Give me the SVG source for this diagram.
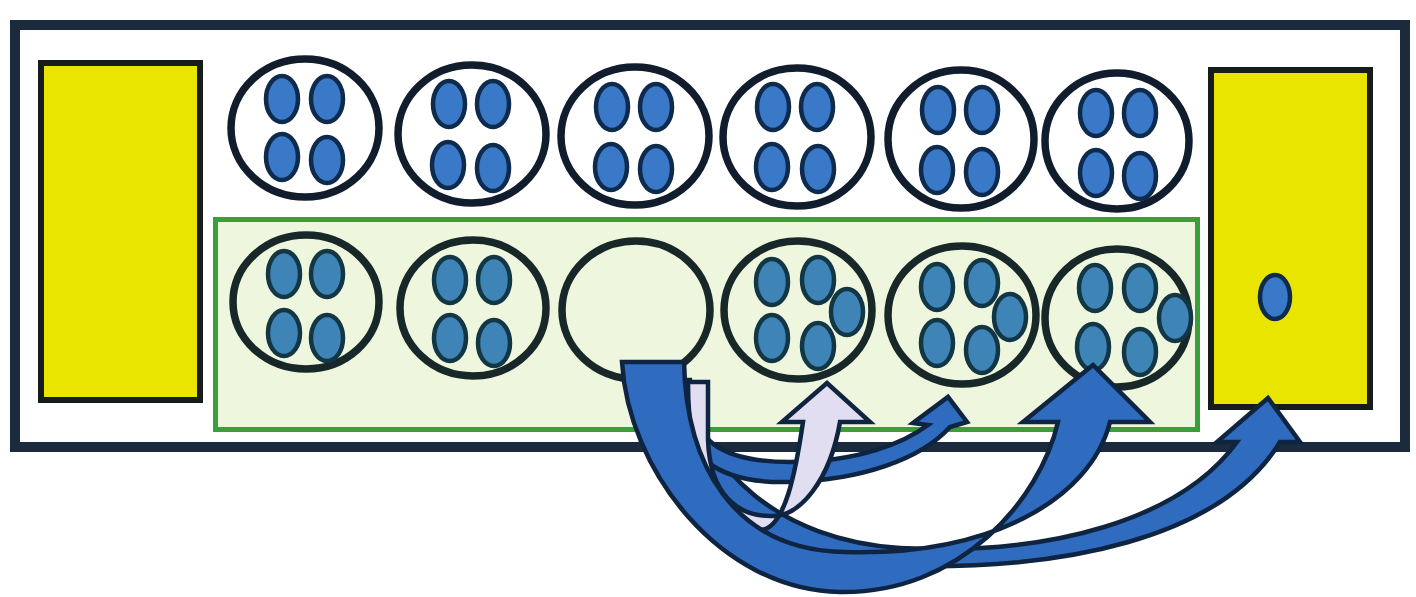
<svg xmlns="http://www.w3.org/2000/svg" width="1416" height="597" viewBox="0 0 1416 597">
<style>
.board{fill:#ffffff;stroke:#1b2a3d;stroke-width:10}
.store{fill:#e9e500;stroke:#161c1c;stroke-width:6}
.row{fill:#eef6de;stroke:#3a9e3a;stroke-width:5}
.pt{fill:#ffffff;stroke:#111d2d;stroke-width:7.5}
.pb{fill:none;stroke:#182828;stroke-width:7.5}
.st{fill:#3a78c8;stroke:#0e2a4c;stroke-width:4.5}
.sb{fill:#3f84b6;stroke:#123644;stroke-width:4.5}
.ab{fill:#2f6cc0;stroke:#0f2440;stroke-width:4.5;stroke-linejoin:miter}
.al{fill:#e2def2;stroke:#0f2440;stroke-width:4.5;stroke-linejoin:miter}
</style>
<rect width="1416" height="597" fill="#ffffff"/>
<g id="board">
<rect class="board" x="15" y="25" width="1390" height="422"/>
<rect class="row" x="215.5" y="219.5" width="982" height="210"/>
</g>
<g id="store-left"><rect class="store" x="41" y="63" width="159" height="337"/></g>
<g id="store-right"><rect class="store" x="1211" y="70" width="159" height="337"/><ellipse class="st" cx="1275" cy="297" rx="15" ry="22"/></g>
<g id="pit-t1"><ellipse class="pt" cx="305" cy="128" rx="74" ry="69"/>
<ellipse class="st" cx="282" cy="99" rx="16" ry="23"/><ellipse class="st" cx="327" cy="99" rx="16" ry="23"/><ellipse class="st" cx="282" cy="157" rx="16" ry="23"/><ellipse class="st" cx="327" cy="160" rx="16" ry="23"/></g>
<g id="pit-t2"><ellipse class="pt" cx="472" cy="134" rx="74" ry="69"/>
<ellipse class="st" cx="449" cy="104" rx="16" ry="23"/><ellipse class="st" cx="493" cy="104" rx="16" ry="23"/><ellipse class="st" cx="448" cy="165" rx="16" ry="23"/><ellipse class="st" cx="493" cy="168" rx="16" ry="23"/></g>
<g id="pit-t3"><ellipse class="pt" cx="635" cy="136" rx="74" ry="69"/>
<ellipse class="st" cx="612" cy="107" rx="16" ry="23"/><ellipse class="st" cx="656" cy="107" rx="16" ry="23"/><ellipse class="st" cx="611" cy="167" rx="16" ry="23"/><ellipse class="st" cx="656" cy="169" rx="16" ry="23"/></g>
<g id="pit-t4"><ellipse class="pt" cx="797" cy="137" rx="74" ry="69"/>
<ellipse class="st" cx="773" cy="107" rx="16" ry="23"/><ellipse class="st" cx="817" cy="107" rx="16" ry="23"/><ellipse class="st" cx="772" cy="167" rx="16" ry="23"/><ellipse class="st" cx="818" cy="169" rx="16" ry="23"/></g>
<g id="pit-t5"><ellipse class="pt" cx="961" cy="139" rx="73" ry="69"/>
<ellipse class="st" cx="938" cy="110" rx="16" ry="23"/><ellipse class="st" cx="982" cy="110" rx="16" ry="23"/><ellipse class="st" cx="937" cy="170" rx="16" ry="23"/><ellipse class="st" cx="982" cy="172" rx="16" ry="23"/></g>
<g id="pit-t6"><ellipse class="pt" cx="1117" cy="141" rx="72" ry="68"/>
<ellipse class="st" cx="1096" cy="113" rx="16" ry="23"/><ellipse class="st" cx="1140" cy="113" rx="16" ry="23"/><ellipse class="st" cx="1096" cy="173" rx="16" ry="23"/><ellipse class="st" cx="1140" cy="176" rx="16" ry="23"/></g>
<g id="pit-b1"><ellipse class="pb" cx="306" cy="302" rx="73" ry="67"/>
<ellipse class="sb" cx="284" cy="274" rx="16" ry="23"/><ellipse class="sb" cx="327" cy="274" rx="16" ry="23"/><ellipse class="sb" cx="284" cy="333" rx="16" ry="23"/><ellipse class="sb" cx="327" cy="338" rx="16" ry="23"/></g>
<g id="pit-b2"><ellipse class="pb" cx="473" cy="308" rx="73" ry="68"/>
<ellipse class="sb" cx="450" cy="280" rx="16" ry="23"/><ellipse class="sb" cx="494" cy="280" rx="16" ry="23"/><ellipse class="sb" cx="450" cy="338" rx="16" ry="23"/><ellipse class="sb" cx="494" cy="343" rx="16" ry="23"/></g>
<g id="pit-b3"><ellipse class="pb" cx="636" cy="310" rx="74" ry="69"/></g>
<g id="pit-b4"><ellipse class="pb" cx="798" cy="310" rx="74" ry="69"/>
<ellipse class="sb" cx="772" cy="282" rx="16" ry="23"/><ellipse class="sb" cx="818" cy="280" rx="16" ry="23"/><ellipse class="sb" cx="847" cy="312" rx="16" ry="23"/><ellipse class="sb" cx="772" cy="338" rx="16" ry="23"/><ellipse class="sb" cx="818" cy="346" rx="16" ry="23"/></g>
<g id="pit-b5"><ellipse class="pb" cx="962" cy="315" rx="74" ry="69"/>
<ellipse class="sb" cx="937" cy="287" rx="16" ry="23"/><ellipse class="sb" cx="982" cy="283" rx="16" ry="23"/><ellipse class="sb" cx="1010" cy="317" rx="16" ry="23"/><ellipse class="sb" cx="937" cy="343" rx="16" ry="23"/><ellipse class="sb" cx="982" cy="350" rx="16" ry="23"/></g>
<g id="pit-b6"><ellipse class="pb" cx="1117" cy="318" rx="72" ry="69"/>
<ellipse class="sb" cx="1095" cy="288" rx="16" ry="23"/><ellipse class="sb" cx="1140" cy="288" rx="16" ry="23"/><ellipse class="sb" cx="1093" cy="347" rx="16" ry="23"/><ellipse class="sb" cx="1140" cy="352" rx="16" ry="23"/><ellipse class="sb" cx="1175" cy="318" rx="16" ry="23"/></g>
<g id="connectors">
<path id="arrow-store" class="ab" d="M690,380 C700,470 780,540 900,548 C1050,556 1180,520 1237,442 L1217,442 L1268,398 L1300,442 L1280,442 C1220,540 1060,570 900,566 C760,562 680,490 670,380 Z"/>
<path id="arrow-b5" class="ab" d="M688,385 C690,440 720,462 790,462 C860,462 905,442 928,425 L913,423 L948,397 L967,422 L950,427 C920,460 860,480 790,482 C720,484 680,460 672,385 Z"/>
<path id="arrow-b4" class="al" d="M688,382 C688,470 715,530 760,530 C785,530 796,470 803,422 L782,422 L827,383 L870,422 L840,422 C830,480 800,518 770,516 C738,516 710,495 708,440 L708,382 Z"/>
<path id="arrow-b6" class="ab" d="M622,362 C628,470 720,590 840,592 C960,594 1040,500 1058,422 L1023,422 L1093,365 L1150,422 L1110,422 C1090,500 990,556 845,552 C730,550 686,460 684,362 Z"/>
</g>
</svg>
